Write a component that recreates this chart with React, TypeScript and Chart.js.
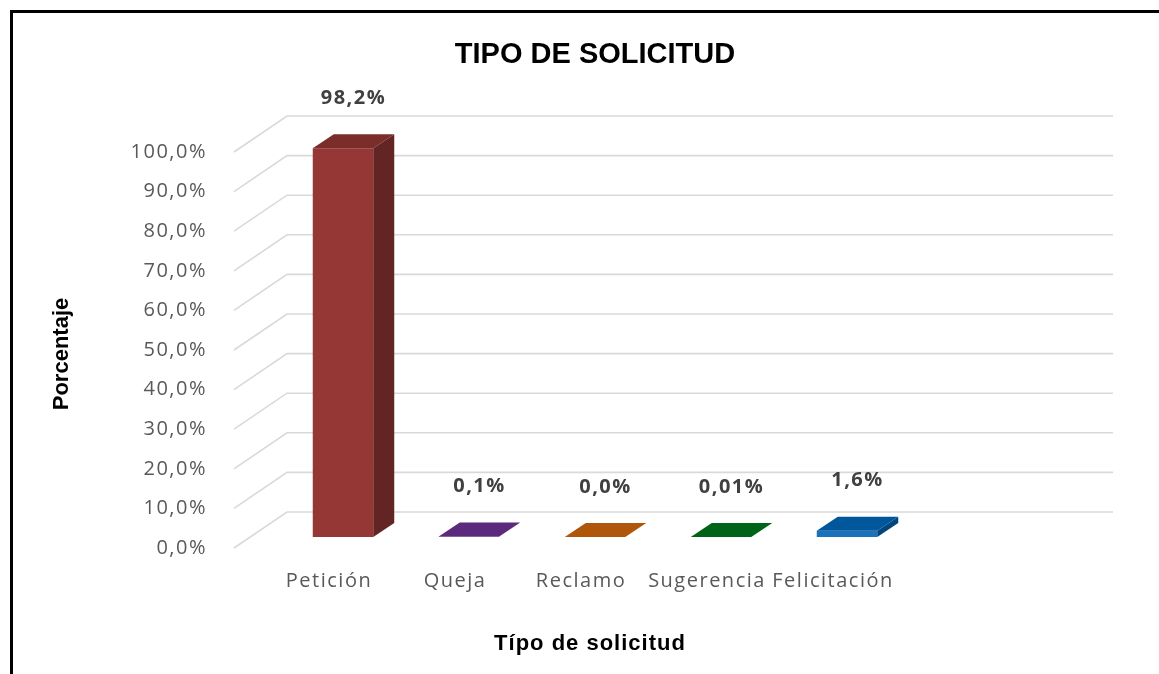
import React, { useEffect, useRef } from "react";
import { Chart, registerables } from "chart.js";

Chart.register(...registerables);

// ---- data ----
const categories = ["Petición", "Queja", "Reclamo", "Sugerencia", "Felicitación"];
const percentages = [98.2, 0.1, 0.0, 0.01, 1.6];
const valueLabels = ["98,2%", "0,1%", "0,0%", "0,01%", "1,6%"];
const yTickValues = [0, 10, 20, 30, 40, 50, 60, 70, 80, 90, 100];
const yTickLabels = yTickValues.map((v) => v.toFixed(1).replace(".", ",") + "%");

// ---- styles ----
const frontColors = ["#953735", "#6a3591", "#c0620e", "#007a1f", "#1a72bd"];
const topColors = ["#7a2d2b", "#5c2a7c", "#b0560a", "#006418", "#00579c"];
const sideColors = ["#632523", "#4a2064", "#8f4608", "#004f12", "#00467e"];

const DEPTH_DX = 21;
const DEPTH_DY = -14;
const GRID_FRONT_DX = -46;
const GRID_FRONT_DY = 11;
const GRID_BACK_DX = 7;
const GRID_BACK_DY = -25;
const WALL_RIGHT = 1113;

const TICK_FONT = "20px 'Open Sans', 'DejaVu Sans', sans-serif";

const threeDPlugin = {
  id: "threeD",
  beforeDatasetsDraw(chart: any) {
    const { ctx, chartArea, scales } = chart;
    const y = scales.y;
    const x = scales.x;
    ctx.save();
    ctx.strokeStyle = "#d9d9d9";
    ctx.lineWidth = 1.6;
    yTickValues.forEach((v) => {
      const py = y.getPixelForValue(v);
      ctx.beginPath();
      ctx.moveTo(chartArea.left + GRID_FRONT_DX, py + GRID_FRONT_DY);
      ctx.lineTo(chartArea.left + GRID_BACK_DX, py + GRID_BACK_DY);
      ctx.lineTo(WALL_RIGHT, py + GRID_BACK_DY);
      ctx.stroke();
    });
    // y tick labels
    ctx.fillStyle = "#595959";
    ctx.font = TICK_FONT;
    (ctx as any).letterSpacing = "1.5px";
    ctx.textAlign = "right";
    ctx.textBaseline = "middle";
    yTickValues.forEach((v, i) => {
      const py = y.getPixelForValue(v);
      ctx.fillText(yTickLabels[i], chartArea.left + GRID_FRONT_DX - 27, py + GRID_FRONT_DY);
    });
    // x tick labels
    ctx.textAlign = "center";
    categories.forEach((c, i) => {
      const px = x.getPixelForValue(i);
      ctx.fillText(c, px - 14, chartArea.bottom + 44);
    });
    // axis titles
    (ctx as any).letterSpacing = "1px";
    ctx.fillStyle = "#000000";
    ctx.font = "bold 22px 'Liberation Sans', Arial, sans-serif";
    ctx.fillText("Típo de solicitud", 590, chartArea.bottom + 107);
    ctx.save();
    ctx.translate(62, 354);
    ctx.rotate(-Math.PI / 2);
    (ctx as any).letterSpacing = "0px";
    ctx.font = "bold 22px 'Liberation Sans', Arial, sans-serif";
    ctx.fillText("Porcentaje", 0, 0);
    ctx.restore();
    ctx.restore();
  },
  afterDatasetsDraw(chart: any) {
    const { ctx } = chart;
    const meta = chart.getDatasetMeta(0);
    ctx.save();
    meta.data.forEach((bar: any, i: number) => {
      const props = bar.getProps(["x", "y", "base", "width"], true);
      const x0 = props.x - props.width / 2;
      const x1 = props.x + props.width / 2;
      const top = Math.min(props.y, props.base);
      const base = props.base;
      if (base - top > 0.5) {
        ctx.fillStyle = sideColors[i];
        ctx.beginPath();
        ctx.moveTo(x1, top);
        ctx.lineTo(x1 + DEPTH_DX, top + DEPTH_DY);
        ctx.lineTo(x1 + DEPTH_DX, base + DEPTH_DY);
        ctx.lineTo(x1, base);
        ctx.closePath();
        ctx.fill();
      }
      ctx.fillStyle = topColors[i];
      ctx.beginPath();
      ctx.moveTo(x0, top);
      ctx.lineTo(x1, top);
      ctx.lineTo(x1 + DEPTH_DX, top + DEPTH_DY);
      ctx.lineTo(x0 + DEPTH_DX, top + DEPTH_DY);
      ctx.closePath();
      ctx.fill();
      ctx.fillStyle = "#404040";
      ctx.font = "bold 20px 'Open Sans', 'DejaVu Sans', sans-serif";
      (ctx as any).letterSpacing = "1.5px";
      ctx.textAlign = "center";
      ctx.textBaseline = "middle";
      ctx.fillText(valueLabels[i], props.x + DEPTH_DX / 2, top - 50);
    });
    ctx.restore();
  },
};

export default function App() {
  const canvasRef = useRef<HTMLCanvasElement | null>(null);

  useEffect(() => {
    if (!canvasRef.current) return;
    const chart = new Chart(canvasRef.current, {
      type: "bar",
      data: {
        labels: categories,
        datasets: [
          {
            label: "Tipo de solicitud",
            data: percentages,
            backgroundColor: frontColors,
            borderWidth: 0,
            barPercentage: 0.48,
            categoryPercentage: 1,
          },
        ],
      },
      options: {
        responsive: false,
        animation: false,
        layout: { padding: { left: 280, right: 1159 - 910, top: 0, bottom: 674 - 537 } },
        plugins: {
          legend: { display: false },
          tooltip: { enabled: false },
          title: {
            display: true,
            text: "TIPO DE SOLICITUD",
            color: "#000000",
            font: { family: "'Liberation Sans', Arial, sans-serif", size: 29, weight: "bold", lineHeight: 1.2 },
            padding: { top: 38, bottom: 68.2 },
          },
        },
        scales: {
          x: { display: false },
          y: { display: false, min: 0, max: 100 },
        },
      },
      plugins: [threeDPlugin],
    });
    return () => chart.destroy();
  }, []);

  return (
    <div
      style={{
        position: "fixed",
        left: 0,
        top: 0,
        width: 1159,
        height: 674,
        overflow: "hidden",
        background: "#ffffff",
      }}
    >
      <canvas ref={canvasRef} width={1159} height={674} style={{ position: "absolute", left: 0, top: 0 }} />
      <div
        style={{
          position: "absolute",
          left: 10,
          top: 10,
          width: 1200,
          height: 700,
          border: "3px solid #000000",
          boxSizing: "border-box",
          pointerEvents: "none",
        }}
      />
    </div>
  );
}
